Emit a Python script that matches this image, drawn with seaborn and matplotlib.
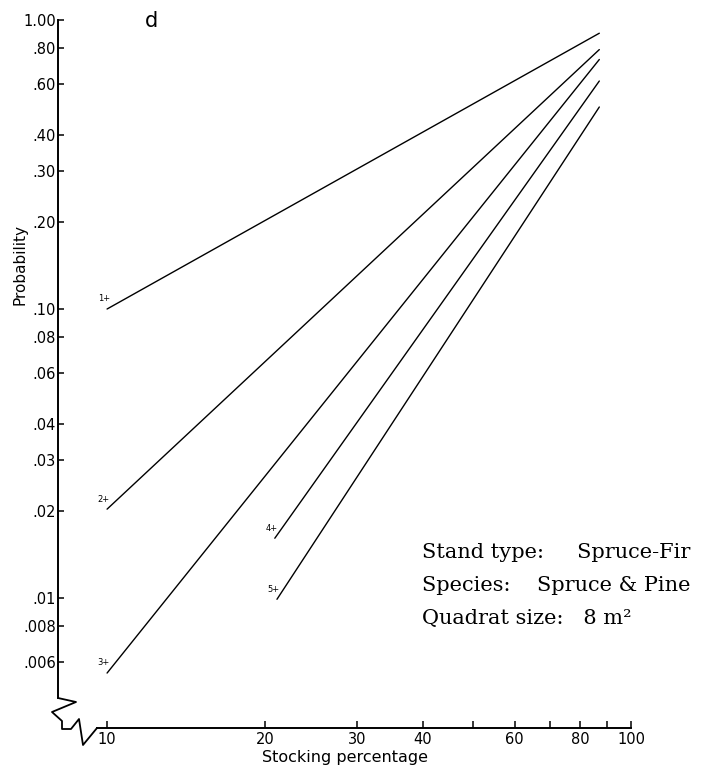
import numpy as np
import pandas as pd
import matplotlib
matplotlib.use("Agg")
import matplotlib.pyplot as plt
import seaborn as sns

# Lines: start and end of each curve (log-log straight lines)
curve_names = ["1+", "2+", "3+", "4+", "5+"]
stock_start = [10.0, 10.0, 10.0, 20.9, 21.1]
stock_end = [87.0, 87.0, 87.0, 87.0, 87.0]
prob_start = [0.100, 0.0203, 0.0055, 0.0161, 0.0099]
prob_end = [0.90, 0.79, 0.73, 0.615, 0.50]

x_ticks = [10, 20, 30, 40, 60, 80, 100]
x_minor = [50, 70, 90]
y_ticks = [1.0, 0.8, 0.6, 0.4, 0.3, 0.2, 0.1, 0.08, 0.06, 0.04, 0.03, 0.02, 0.01, 0.008, 0.006]
y_tick_labels = ["1.00", ".80", ".60", ".40", ".30", ".20", ".10", ".08", ".06", ".04", ".03",
                 ".02", ".01", ".008", ".006"]

info_lines = ["Stand type:     Spruce-Fir", "Species:    Spruce & Pine", "Quadrat size:   8 m²"]

rows = []
for name, x0, x1, y0, y1 in zip(curve_names, stock_start, stock_end, prob_start, prob_end):
    rows.append({"curve": name, "stocking": x0, "prob": y0})
    rows.append({"curve": name, "stocking": x1, "prob": y1})
df = pd.DataFrame(rows)

sns.set_style("white")
plt.rcParams["font.family"] = ["DejaVu Sans"]
plt.rcParams["text.color"] = "black"
plt.rcParams["axes.labelcolor"] = "black"
plt.rcParams["xtick.color"] = "black"
plt.rcParams["ytick.color"] = "black"

W, H = 708, 771
fig = plt.figure(figsize=(W / 100, H / 100), dpi=100)
ax_left, ax_right, ax_top, ax_bottom = 58, 631, 20, 728
ax = fig.add_axes([ax_left / W, 1 - ax_bottom / H, (ax_right - ax_left) / W, (ax_bottom - ax_top) / H])

sns.lineplot(data=df, x="stocking", y="prob", units="curve", estimator=None,
             color="black", linewidth=1.0, ax=ax, legend=False)

ax.set_xscale("log")
ax.set_yscale("log")
ax.set_xlim(8.06, 100)
ax.set_ylim(0.00355, 1.0)

ax.set_xticks(x_ticks)
ax.set_xticklabels([str(t) for t in x_ticks], fontsize=10.5)
ax.set_xticks(x_minor, minor=True)
ax.set_xticklabels([], minor=True)
ax.set_yticks(y_ticks)
ax.set_yticklabels(y_tick_labels, fontsize=10.5)
ax.yaxis.set_minor_locator(matplotlib.ticker.NullLocator())
ax.tick_params(axis="x", which="both", direction="in", length=5, width=1.1, pad=3, bottom=True)
ax.tick_params(axis="y", which="both", direction="in", length=4, width=1.1, pad=1.5, left=True)

for s in ["top", "right"]:
    ax.spines[s].set_visible(False)
ax.spines["left"].set_bounds(0.00451, 1.0)
ax.spines["bottom"].set_bounds(9.57, 100)
for s in ["left", "bottom"]:
    ax.spines[s].set_linewidth(1.4)
    ax.spines[s].set_color("black")

# axis break zigzag (pixel positions converted to axes fraction)
zig_px = [(58, 698), (76, 702), (52, 712), (62, 721), (62, 729), (71, 729), (79, 719),
          (83, 745), (97, 728)]
zx = [(p[0] - ax_left) / (ax_right - ax_left) for p in zig_px]
zy = [(ax_bottom - p[1]) / (ax_bottom - ax_top) for p in zig_px]
ax.plot(zx, zy, transform=ax.transAxes, color="black", linewidth=1.3, clip_on=False)

ax.set_xlabel("Stocking percentage", fontsize=11.5, labelpad=2)
ax.set_ylabel("Probability", fontsize=11)
ax.yaxis.set_label_coords(-0.053, 0.655)

for name, x0, y0 in zip(curve_names, stock_start, prob_start):
    ax.annotate(name, (x0, y0), xytext=(2, 4), textcoords="offset points",
                fontsize=6, ha="right", va="bottom")

ax.text(0.163, 0.999, "d", transform=ax.transAxes, fontsize=15, ha="center", va="center")

for i, line in enumerate(info_lines):
    ax.text(0.636, 0.248 - i * 0.047, line, transform=ax.transAxes, fontsize=15,
            family=["DejaVu Serif"], ha="left", va="center")

fig.savefig("out.png", dpi=100, facecolor="white")
